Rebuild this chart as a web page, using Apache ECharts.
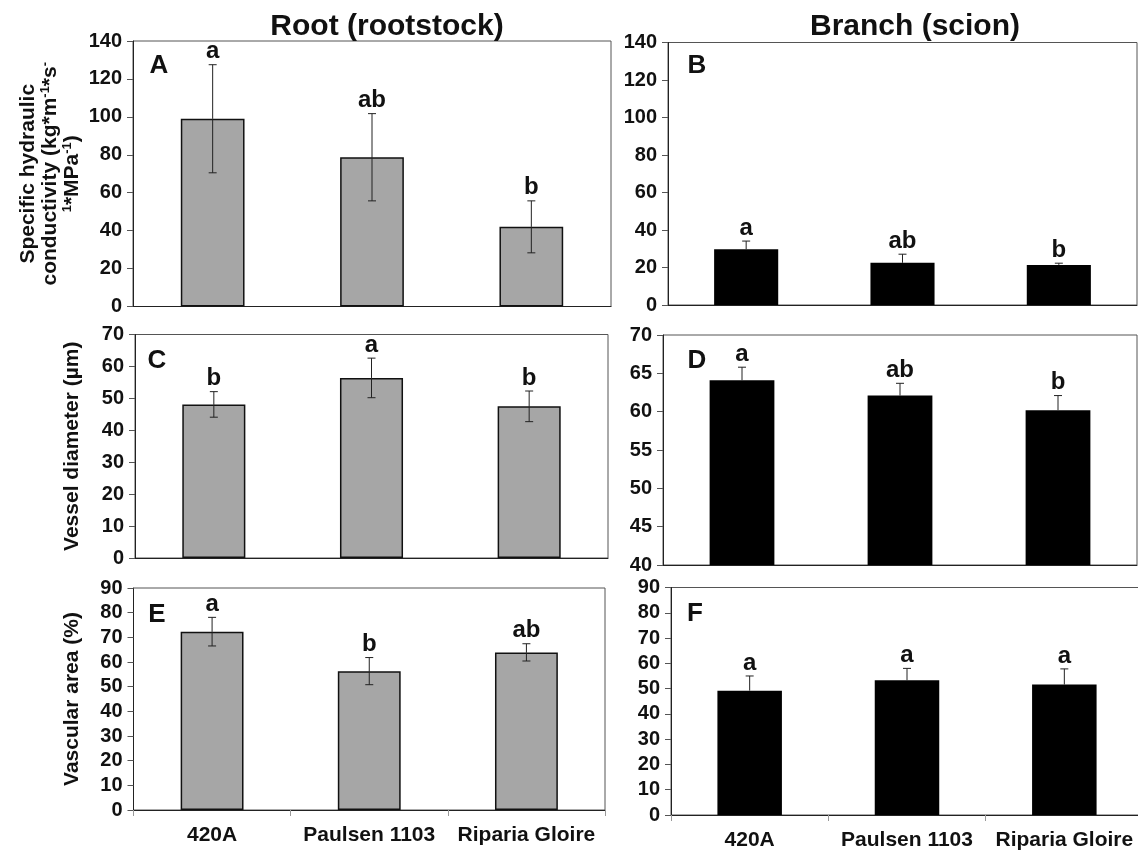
<!DOCTYPE html>
<html><head><meta charset="utf-8">
<script src="https://cdn.jsdelivr.net/npm/echarts@6/dist/echarts.min.js"></script>
<style>html,body{margin:0;padding:0;background:#fff}#c{width:1138px;height:851px}</style>
</head><body><div id="c"></div>
<script>
// ---------- data ----------
const categories = ['420A', 'Paulsen 1103', 'Riparia Gloire'];

const rootConductivity = [99, 78.7, 42];
const rootConductivityErr = [28.5, 23, 13.7];
const branchConductivity = [29.8, 22.5, 21.4];
const branchConductivityErr = [4.3, 4.6, 0.9];

const rootVessel = [48.1, 56.4, 47.5];
const rootVesselErr = [4, 6.2, 4.8];
const branchVessel = [64.1, 62.1, 60.2];
const branchVesselErr = [1.7, 1.6, 1.9];

const rootVascular = [72.3, 56.3, 63.9];
const rootVascularErr = [5.8, 5.5, 3.5];
const branchVascular = [49.2, 53.3, 51.6];
const branchVascularErr = [5.8, 4.7, 6.2];

const lettersA = ['a', 'ab', 'b'];
const lettersB = ['a', 'ab', 'b'];
const lettersC = ['b', 'a', 'b'];
const lettersD = ['a', 'ab', 'b'];
const lettersE = ['a', 'b', 'ab'];
const lettersF = ['a', 'a', 'a'];

const conductivityTicks = [0, 20, 40, 60, 80, 100, 120, 140];
const rootVesselTicks = [0, 10, 20, 30, 40, 50, 60, 70];
const branchVesselTicks = [40, 45, 50, 55, 60, 65, 70];
const vascularTicks = [0, 10, 20, 30, 40, 50, 60, 70, 80, 90];

const columnTitles = ['Root (rootstock)', 'Branch (scion)'];
const panelLetters = ['A', 'B', 'C', 'D', 'E', 'F'];
const yNameConductivity = '{n|Specific hydraulic}\n{n|conductivity (kg*m}{s|-1}{n|*s}{s|-}\n{s|1}{n|*MPa}{s|-1}{n|)}';
const yNameVessel = 'Vessel diameter (µm)';
const yNameVascular = 'Vascular area (%)';

// ---------- layout / style ----------
const GRAY = '#a6a6a6';
const BLACK = '#000';
const FONT = '"Liberation Sans", Arial, sans-serif';

const panels = [
  { grid: {left: 133, top: 41, width: 478, height: 265.5}, values: rootConductivity, err: rootConductivityErr, letters: lettersA, ticks: conductivityTicks, fill: GRAY, name: yNameConductivity, nameGap: 50, xLabels: false, letterPos: [159, 66] },
  { grid: {left: 668, top: 42.5, width: 469, height: 262.5}, values: branchConductivity, err: branchConductivityErr, letters: lettersB, ticks: conductivityTicks, fill: BLACK, name: '', nameGap: 0, xLabels: false, letterPos: [697, 66] },
  { grid: {left: 135, top: 334.5, width: 473, height: 223.5}, values: rootVessel, err: rootVesselErr, letters: lettersC, ticks: rootVesselTicks, fill: GRAY, name: yNameVessel, nameGap: 52, xLabels: false, letterPos: [157, 361] },
  { grid: {left: 663, top: 335, width: 474, height: 230}, values: branchVessel, err: branchVesselErr, letters: lettersD, ticks: branchVesselTicks, fill: BLACK, name: '', nameGap: 0, xLabels: false, letterPos: [697, 361] },
  { grid: {left: 133.5, top: 588, width: 471.5, height: 222}, values: rootVascular, err: rootVascularErr, letters: lettersE, ticks: vascularTicks, fill: GRAY, name: yNameVascular, nameGap: 50, xLabels: true, letterPos: [157, 615] },
  { grid: {left: 671, top: 587.5, width: 472, height: 227.5}, values: branchVascular, err: branchVascularErr, letters: lettersF, ticks: vascularTicks, fill: BLACK, name: '', nameGap: 0, xLabels: true, letterPos: [695, 614] }
];

const grids = [], xAxes = [], yAxes = [], series = [];
panels.forEach((p, i) => {
  grids.push(Object.assign({
    show: true, borderColor: '#555', borderWidth: 1, backgroundColor: 'transparent',
    containLabel: false, outerBoundsMode: 'none'
  }, p.grid));
  xAxes.push({
    type: 'category', gridIndex: i, data: categories,
    axisLine: {show: true, lineStyle: {color: '#222', width: 1}},
    axisTick: {show: p.xLabels, alignWithLabel: false, interval: 0, length: 6, lineStyle: {color: '#999'}},
    axisLabel: {show: p.xLabels, interval: 0, margin: 15, fontFamily: FONT, fontWeight: 'bold', fontSize: 21, color: '#111'},
    splitLine: {show: false}
  });
  const t = p.ticks;
  yAxes.push({
    type: 'value', gridIndex: i,
    min: t[0], max: t[t.length - 1], interval: t[1] - t[0], startValue: t[0],
    axisLine: {show: true, onZero: false, lineStyle: {color: '#222', width: 1}},
    axisTick: {show: true, length: 6, lineStyle: {color: '#555'}},
    axisLabel: {margin: 11, fontFamily: FONT, fontWeight: 'bold', fontSize: 20, color: '#111'},
    splitLine: {show: false},
    name: p.name, nameLocation: 'middle', nameGap: p.nameGap, nameRotate: 90,
    nameTextStyle: {
      fontFamily: FONT, fontWeight: 'bold', fontSize: 21, lineHeight: 22, color: '#111', align: 'center',
      rich: {
        n: {fontFamily: FONT, fontWeight: 'bold', fontSize: 21, lineHeight: 22, color: '#111'},
        s: {fontFamily: FONT, fontWeight: 'bold', fontSize: 13, color: '#111', verticalAlign: 'top'}
      }
    }
  });
  series.push({
    type: 'bar', xAxisIndex: i, yAxisIndex: i, data: p.values, barWidth: p.fill === GRAY ? '40%' : '41%',
    clip: true, silent: true, z: 2,
    itemStyle: {color: p.fill, borderColor: '#111', borderWidth: p.fill === GRAY ? 1.5 : 0}
  });
  const letters = p.letters;
  const lowerVisible = p.fill === GRAY;
  series.push({
    type: 'custom', xAxisIndex: i, yAxisIndex: i, silent: true, clip: false, z: 5,
    data: p.values.map((v, k) => [k, v, p.err[k]]),
    renderItem: (params, api) => {
      const k = api.value(0), m = api.value(1), e = api.value(2);
      const top = api.coord([k, m + e]);
      const mid = api.coord([k, m]);
      const bot = api.coord([k, m - e]);
      const cx = top[0], cap = 4;
      const ls = {stroke: '#222', lineWidth: 1};
      const children = [
        {type: 'line', shape: {x1: cx, y1: top[1], x2: cx, y2: mid[1]}, style: ls},
        {type: 'line', shape: {x1: cx - cap, y1: top[1], x2: cx + cap, y2: top[1]}, style: ls},
        {type: 'text', x: cx, y: top[1] - 13, style: {text: letters[params.dataIndex], font: 'bold 24px ' + FONT, fill: '#111', align: 'center', verticalAlign: 'middle'}}
      ];
      if (lowerVisible) {
        children.push({type: 'line', shape: {x1: cx, y1: mid[1], x2: cx, y2: bot[1]}, style: ls});
        children.push({type: 'line', shape: {x1: cx - cap, y1: bot[1], x2: cx + cap, y2: bot[1]}, style: ls});
      }
      return {type: 'group', children: children};
    }
  });
});

const graphic = [
  {type: 'text', x: 387, y: 27, style: {text: columnTitles[0], font: 'bold 30px ' + FONT, fill: '#111', align: 'center', verticalAlign: 'middle'}},
  {type: 'text', x: 915, y: 27, style: {text: columnTitles[1], font: 'bold 30px ' + FONT, fill: '#111', align: 'center', verticalAlign: 'middle'}}
];
panels.forEach((p, i) => {
  graphic.push({type: 'text', x: p.letterPos[0], y: p.letterPos[1], style: {text: panelLetters[i], font: 'bold 26px ' + FONT, fill: '#111', align: 'center', verticalAlign: 'middle'}});
});

const chart = echarts.init(document.getElementById('c'), null, {renderer: 'canvas'});
chart.setOption({
  animation: false,
  backgroundColor: '#fff',
  grid: grids, xAxis: xAxes, yAxis: yAxes, series: series, graphic: graphic
});
</script></body></html>
